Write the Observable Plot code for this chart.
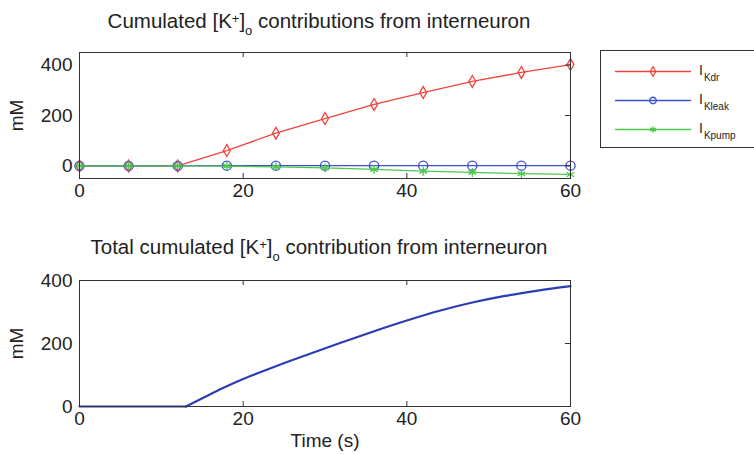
<!DOCTYPE html>
<html>
<head>
<meta charset="utf-8">
<script src="https://cdn.jsdelivr.net/npm/d3@7"></script>
<script src="https://cdn.jsdelivr.net/npm/@observablehq/plot@0.6"></script>
<style>
  html, body { margin: 0; padding: 0; background: #fff; overflow: hidden; }
  #page { position: relative; width: 754px; height: 454px; font-family: "Liberation Sans", Arial, sans-serif; color: #222; }
  .panel { position: absolute; left: 0; }
  .title { position: absolute; font-size: 20.5px; line-height: 20.5px; white-space: nowrap; transform: translateX(-50%); }
  .title sup, .title sub { font-size: 13px; line-height: 0; vertical-align: baseline; position: relative; }
  .title sup { top: -5px; }
  .title sub { top: 7px; }
  #legend { position: absolute; left: 600px; top: 50px; width: 170px; height: 98px; border: 1px solid #333; box-sizing: border-box; }
  #legend svg { position: absolute; left: 0; top: 0; }
  .key { position: absolute; left: 98px; font-size: 14px; line-height: 14px; white-space: nowrap; }
  .key sub { font-size: 10px; line-height: 0; vertical-align: baseline; position: relative; top: 6px; left: 1px; }
</style>
</head>
<body>
<div id="page">
  <div class="title" style="left:319px;top:11px">Cumulated [K<sup>+</sup>]<sub>o</sub> contributions from interneuron</div>
  <div class="title" style="left:319px;top:236.5px">Total cumulated [K<sup>+</sup>]<sub>o</sub> contribution from interneuron</div>
  <div id="top" class="panel" style="top:0"></div>
  <div id="bottom" class="panel" style="top:205px"></div>
  <div id="legend"></div>
</div>
<script>
// Sample times (s) of the marked points in the upper panel
const time = [0, 6, 12, 18, 24, 30, 36, 42, 48, 54, 60];
// Cumulated [K+]o contribution of each current (mM)
const iKdr   = [0, 0, 0, 61, 130, 188, 244, 291, 335, 371, 402];
const iKleak = [0, 0, 0, 1, 1, 1, 1, 1, 1, 1, 1];
const iKpump = [0, 0, 0, -1, -4, -8, -14, -21, -26, -31, -34];

// Total contribution (mM) over time (s); it stays at 0 until onsetTime
const onsetTime  = 13;
const totalTime  = [0, 13, 16, 18, 20, 22, 24, 28, 32, 36, 40, 44, 48, 52, 56, 60];
const totalValue = [0, 0, 39, 64, 87, 108, 128, 166, 203, 239, 273, 304, 330, 351, 368, 382];

// Axis ticks
const xTicks = [0, 20, 40, 60];
const yTicks = [0, 200, 400];

const series = [
  {name: "Kdr",   values: iKdr,   color: "#f0443c", symbol: "diamond", r: 3.6},
  {name: "Kleak", values: iKleak, color: "#3b4fd0", symbol: "circle",  r: 4.6},
  {name: "Kpump", values: iKpump, color: "#4cc84c", symbol: "asterisk", r: 4.2}
];

const W = 754;
const mL = 79, mR = W - 570;
const innerW = W - mL - mR;
const frameColor = "#333";
const font = {fontFamily: "Liberation Sans, Arial, sans-serif", fontSize: "19px", color: "#222", background: "transparent", overflow: "visible"};

// Box frame with inward ticks on the bottom, top and right edges
function boxMarks(innerH) {
  return [
    Plot.tickX(xTicks, {x: d => d, insetTop: innerH - 5, stroke: frameColor}),
    Plot.tickX(xTicks, {x: d => d, insetBottom: innerH - 5, stroke: frameColor}),
    Plot.tickY(yTicks, {y: d => d, insetLeft: innerW - 5, stroke: frameColor}),
    Plot.frame({stroke: frameColor})
  ];
}

// Upper panel: contribution per current
const topH = 205, topMT = 52, topMB = 27;
const topInnerH = topH - topMT - topMB;
const lineMarks = series.flatMap(s => {
  const rows = time.map((t, i) => ({t, v: s.values[i]}));
  return [
    Plot.line(rows, {x: "t", y: "v", stroke: s.color, strokeWidth: 1.3}),
    Plot.dot(rows, {x: "t", y: "v", symbol: s.symbol, r: s.r, stroke: s.color, fill: "none", strokeWidth: 1.3})
  ];
});
const topPlot = Plot.plot({
  width: W, height: topH,
  marginLeft: mL, marginRight: mR, marginTop: topMT, marginBottom: topMB,
  style: font,
  x: {domain: [0, 60]},
  y: {domain: [-50, 450]},
  marks: [
    ...lineMarks,
    ...boxMarks(topInnerH),
    Plot.axisX({ticks: xTicks, tickSize: 0, tickPadding: 5, label: null}),
    Plot.axisY({ticks: yTicks, tickSize: 0, tickPadding: 7, label: "mM", labelAnchor: "center", labelArrow: "none", labelOffset: 70})
  ]
});
document.getElementById("top").append(topPlot);

// Lower panel: total contribution (flat until onset, smooth afterwards)
const botH = 249, botMT = 75, botMB = 48;
const botInnerH = botH - botMT - botMB;
const totalRows = totalTime.map((t, i) => ({t, v: totalValue[i]}));
const totalStyle = {x: "t", y: "v", stroke: "#2b3db4", strokeWidth: 2.2};
const bottomPlot = Plot.plot({
  width: W, height: botH,
  marginLeft: mL, marginRight: mR, marginTop: botMT, marginBottom: botMB,
  style: font,
  x: {domain: [0, 60]},
  y: {domain: [0, 400]},
  marks: [
    Plot.line(totalRows, {...totalStyle, filter: d => d.t <= onsetTime}),
    Plot.line(totalRows, {...totalStyle, filter: d => d.t >= onsetTime, curve: "monotone-x"}),
    ...boxMarks(botInnerH),
    Plot.axisX({ticks: xTicks, tickSize: 0, tickPadding: 5, label: "Time (s)", labelAnchor: "center", labelArrow: "none", labelOffset: 40, fontSize: 19}),
    Plot.axisY({ticks: yTicks, tickSize: 0, tickPadding: 7, label: "mM", labelAnchor: "center", labelArrow: "none", labelOffset: 70})
  ]
});
document.getElementById("bottom").append(bottomPlot);

// Legend: line sample with marker for each current
const legendRows = series.flatMap(s => [{name: s.name, p: 0}, {name: s.name, p: 1}]);
const legendPlot = Plot.plot({
  width: 168, height: 96,
  margin: 0,
  style: {background: "transparent", overflow: "visible"},
  x: {domain: [0, 1], range: [14, 89], axis: null},
  y: {type: "point", domain: series.map(s => s.name), range: [20, 78], padding: 0, axis: null},
  color: {domain: series.map(s => s.name), range: series.map(s => s.color)},
  symbol: {domain: series.map(s => s.name), range: series.map(s => s.symbol)},
  marks: [
    Plot.line(legendRows, {x: "p", y: "name", z: "name", stroke: "name", strokeWidth: 1.3}),
    Plot.dot(series, {x: () => 0.5, y: "name", stroke: "name", symbol: "name", r: s => s.r, fill: "none", strokeWidth: 1.3})
  ]
});
const legend = document.getElementById("legend");
legend.append(legendPlot);
// Labels sit beside the legend rows
series.forEach((s, i) => {
  const k = document.createElement("div");
  k.className = "key";
  k.style.top = (12 + i * 29) + "px";
  k.innerHTML = "I<sub>" + s.name + "</sub>";
  legend.append(k);
});
</script>
</body>
</html>
